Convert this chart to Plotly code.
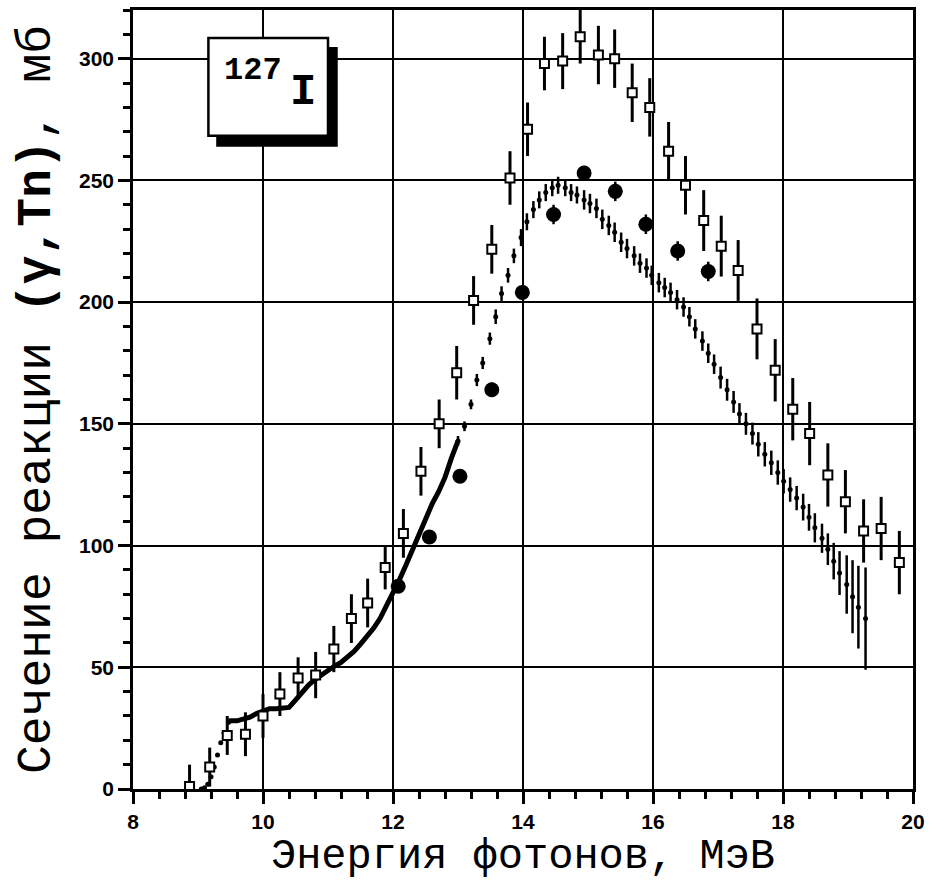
import plotly.graph_objects as go

# --- open squares with error bars ---
sq_x = [8.87, 9.18, 9.45, 9.73, 10.0, 10.26, 10.54, 10.81, 11.09, 11.36, 11.61, 11.88,
        12.16, 12.43, 12.71, 12.98, 13.24, 13.52, 13.8, 14.07, 14.33, 14.61, 14.88,
        15.16, 15.41, 15.68, 15.95, 16.24, 16.5, 16.78, 17.05, 17.31, 17.6, 17.88,
        18.15, 18.41, 18.69, 18.96, 19.24, 19.51, 19.79]
sq_y = [1, 9, 22, 22.5, 30, 39, 45.6, 46.8, 57.5, 70, 76.4, 91, 105, 130.5, 150, 171,
        200.7, 221.7, 251, 271, 298, 299, 309, 301.5, 300, 286, 280, 262, 248, 233.5,
        223, 213, 189, 172, 156, 146, 129, 118, 106, 107, 93]
sq_err = [9, 8, 8, 9, 9, 9, 8.5, 9.5, 9.5, 10, 10, 9, 10, 10, 10, 11, 10, 10, 11, 11,
          11, 11.5, 11, 12, 12, 12, 12, 12, 12, 12.5, 12.5, 12.5, 12.5, 12.8, 12.8,
          13, 13, 13, 13, 13, 13]

# --- large filled circles ---
ci_x = [12.08, 12.56, 13.03, 13.52, 13.99, 14.47, 14.94, 15.42, 15.89, 16.38, 16.85]
ci_y = [83.3, 103.5, 128.5, 164, 204, 236, 253, 245.5, 232, 221, 212.6]
ci_err = [2, 2, 2, 3, 3, 4, 3, 4, 4, 4, 4]

# --- small dots: threshold onset ---
on_x = [9.05, 9.1, 9.15, 9.2, 9.25, 9.3, 9.35, 9.4]
on_y = [0, 0.5, 2, 5, 9, 14, 19, 23]

# --- small dots: dense low-energy part (drawn as a thick curve) ---
lo_x = [9.45, 9.5, 9.6, 9.7, 9.8, 9.9, 10.0, 10.1, 10.2, 10.3, 10.4, 10.5, 10.6, 10.7,
        10.8, 10.9, 11.0, 11.1, 11.2, 11.3, 11.4, 11.5, 11.6, 11.7, 11.8, 11.9, 12.0,
        12.1, 12.2, 12.3, 12.4, 12.5, 12.6, 12.7, 12.8, 12.9, 13.0]
lo_y = [27, 28, 28, 28.5, 29.5, 31, 32, 33, 33, 33, 33.5, 36.5, 40, 42.7, 45, 47, 49,
        50.5, 52, 54, 56.5, 59.5, 62.5, 66, 70, 75, 80, 86, 92, 98.5, 105, 111, 117,
        122, 128, 136, 143]

# --- small dots with error bars ---
dt_x = [13.0, 13.1, 13.2, 13.29, 13.38, 13.49, 13.58, 13.67, 13.77, 13.86, 13.97, 14.06,
        14.16, 14.25, 14.35, 14.45, 14.54, 14.65, 14.74, 14.83, 14.94, 15.03, 15.13,
        15.22, 15.32, 15.41, 15.51, 15.6, 15.71, 15.8, 15.9, 15.98, 16.09, 16.18, 16.27,
        16.37, 16.47, 16.56, 16.65, 16.76, 16.85, 16.94, 17.04, 17.14, 17.24, 17.33,
        17.43, 17.53, 17.62, 17.72, 17.82, 17.92, 18.01, 18.11, 18.21, 18.31, 18.40,
        18.49, 18.6, 18.69, 18.78, 18.87, 18.98, 19.07, 19.16, 19.27]
dt_y = [143, 149, 158, 168, 175, 185, 194, 203.5, 211, 219, 226.5, 233, 238, 242, 245,
        247, 248, 247, 245, 244, 242, 240.5, 238.5, 234, 231.5, 228.7, 224.6, 222, 219,
        216, 214, 211, 208, 206, 204, 201, 198, 194, 189, 184, 179, 174.5, 169, 164,
        159, 154, 150, 146, 141.6, 137.5, 134, 130, 126.4, 123, 119.5, 115.8, 111.6,
        107.3, 103, 98.5, 93.6, 88.7, 84, 79, 74.7, 70]
dt_err = [2, 2, 2, 2.5, 2.5, 2.5, 3, 3, 3, 3,
          3.5, 3.5, 3.5, 3.5, 3.5, 3.5, 3.5, 3.5, 3.5, 3.5,
          4, 4, 4, 4, 4, 4, 4, 4, 4, 4,
          4, 4, 4, 4, 4, 4, 4, 4, 4, 4,
          4, 4, 4.5, 4.5, 4.5, 4.5, 4.5, 4.5, 5, 5,
          5, 5, 5, 5, 5, 5.5, 5.5, 6, 6, 6.5,
          7.5, 9, 12, 15, 17, 21]

x_range = [8, 20]
y_range = [0, 320]

fig = go.Figure()

fig.add_trace(go.Scatter(x=lo_x, y=lo_y, mode="lines",
                         line=dict(color="black", width=5), hoverinfo="skip"))
fig.add_trace(go.Scatter(x=on_x, y=on_y, mode="markers",
                         marker=dict(color="black", size=5)))
fig.add_trace(go.Scatter(x=dt_x, y=dt_y, mode="markers",
                         marker=dict(color="black", size=5),
                         error_y=dict(type="data", array=dt_err, color="black",
                                      thickness=2.5, width=0)))
fig.add_trace(go.Scatter(x=sq_x, y=sq_y, mode="markers",
                         marker=dict(symbol="square", color="white", size=9,
                                     line=dict(color="black", width=2)),
                         error_y=dict(type="data", array=sq_err, color="black",
                                      thickness=3, width=0)))
fig.add_trace(go.Scatter(x=ci_x, y=ci_y, mode="markers",
                         marker=dict(symbol="circle", color="black", size=15),
                         error_y=dict(type="data", array=ci_err, color="black",
                                      thickness=2.5, width=0)))

# nucleus label box with drop shadow
fig.add_shape(type="rect", xref="x", yref="y", x0=9.28, x1=11.15, y0=263.8, y1=304.8,
              fillcolor="black", line=dict(width=0), layer="above")
fig.add_shape(type="rect", xref="x", yref="y", x0=9.16, x1=11.0, y0=268.3, y1=308.5,
              fillcolor="white", line=dict(color="black", width=2.5), layer="above")
fig.add_annotation(x=9.85, y=295.2, xref="x", yref="y", text="<b>127</b>",
                   showarrow=False, font=dict(family="Liberation Mono", size=32, color="black"))
fig.add_annotation(x=10.62, y=286.5, xref="x", yref="y", text="<b>I</b>",
                   showarrow=False, font=dict(family="Liberation Mono", size=44, color="black"))

tick_font = dict(family="Liberation Sans", size=21, color="black", weight="bold")

fig.update_xaxes(range=x_range, dtick=2, showline=True, linecolor="black", linewidth=2.5,
                 ticks="outside", ticklen=12, tickwidth=2.5, tickcolor="black",
                 showgrid=True, gridcolor="black", gridwidth=1.5, zeroline=False,
                 tickfont=tick_font,
                 minor=dict(ticks="outside", dtick=0.4, ticklen=7, tickcolor="black"),
                 title=dict(text="Энергия фотонов, МэВ", standoff=6,
                            font=dict(family="Liberation Mono", size=42, color="black")))
fig.update_yaxes(range=y_range, dtick=50, showline=True, linecolor="black", linewidth=2.5,
                 ticks="outside", ticklen=12, tickwidth=2.5, tickcolor="black",
                 showgrid=True, gridcolor="black", gridwidth=1.5, zeroline=False,
                 tickfont=tick_font,
                 minor=dict(ticks="outside", dtick=10, ticklen=7, tickcolor="black"),
                 title=dict(text="Сечение реакции <b>(γ,Tn)</b>, мб", standoff=14,
                            font=dict(family="Liberation Mono", size=48, color="black")))

# top and right edges of the frame
fig.update_layout(
    xaxis2=dict(overlaying="x", side="top", range=x_range, showline=True,
                linecolor="black", linewidth=2.5, showticklabels=False, ticks="",
                showgrid=False, zeroline=False),
    yaxis2=dict(overlaying="y", side="right", range=y_range, showline=True,
                linecolor="black", linewidth=2.5, showticklabels=False, ticks="",
                showgrid=False, zeroline=False),
)
fig.add_trace(go.Scatter(x=[], y=[], xaxis="x2", yaxis="y2", showlegend=False))

fig.update_layout(width=935, height=896, showlegend=False,
                  margin=dict(l=133, r=17, t=10, b=107),
                  plot_bgcolor="white", paper_bgcolor="white")

fig.write_html("out.html")
